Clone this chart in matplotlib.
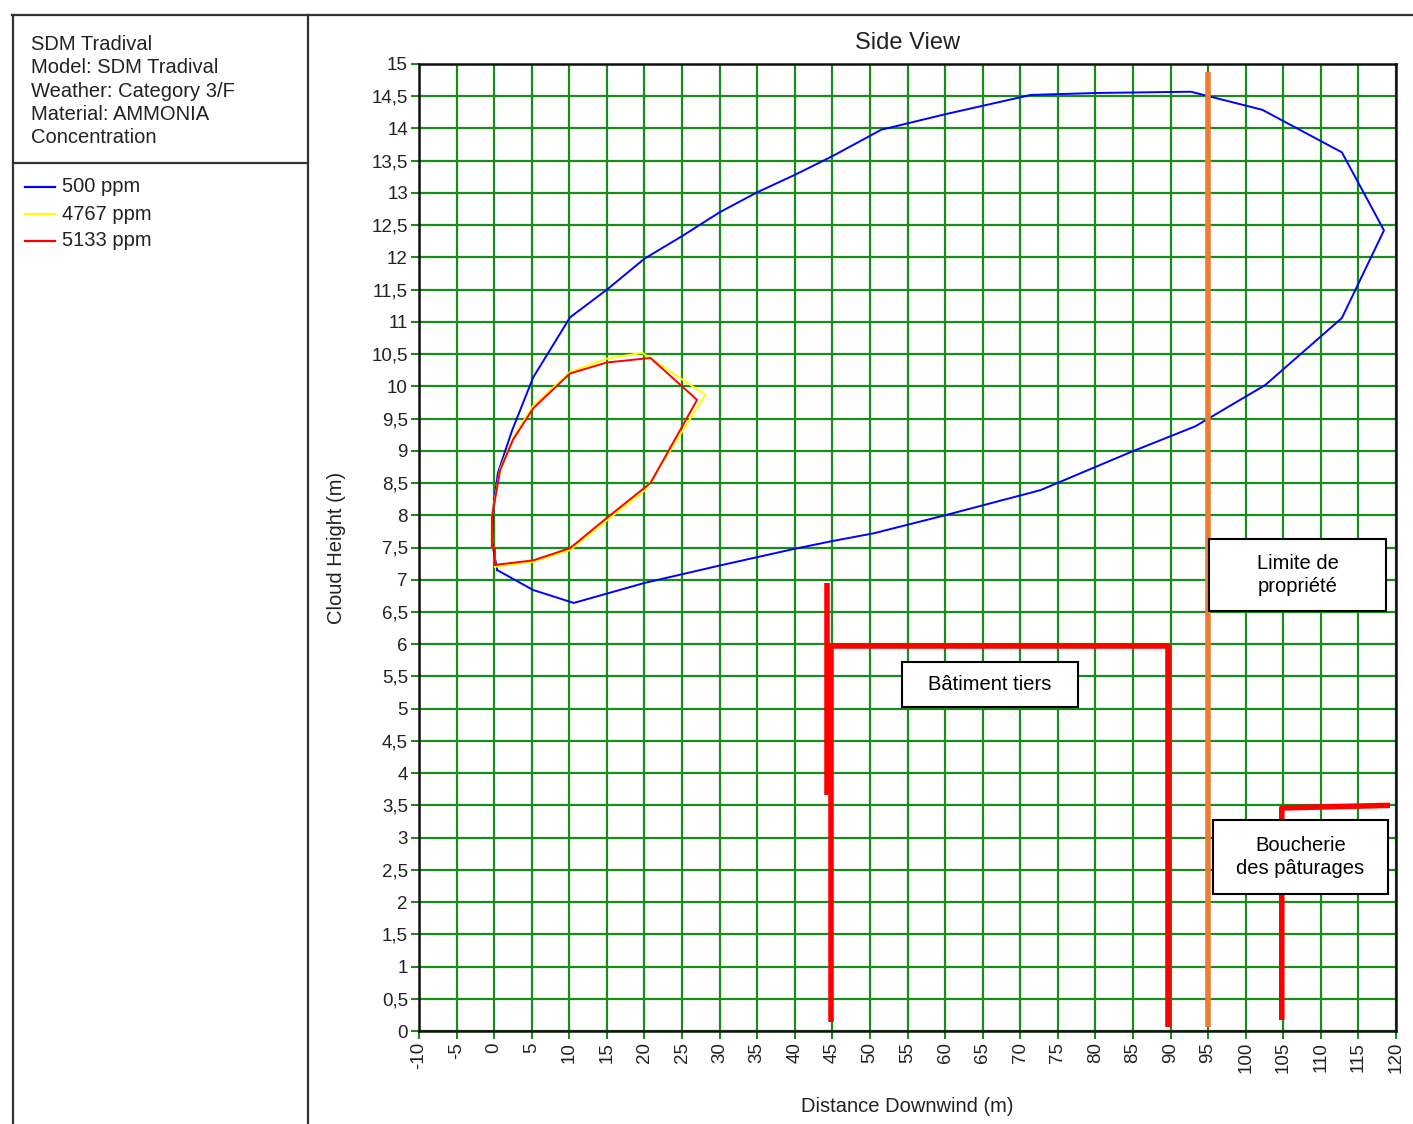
import matplotlib.pyplot as plt
import matplotlib.lines as mlines
import matplotlib.patches as mpatches
import numpy as np

plt.rcParams['font.family'] = ['Liberation Sans', 'DejaVu Sans']

W, H = 1413, 1124

# 500 ppm contour (blue)
x500 = [0.4, 5.2, 10.6, 20, 30, 40, 45, 50.5, 60, 72.7, 84.7, 93.3, 102.6, 112.8, 118.4,
        112.8, 102.2, 92.7, 80, 71.4, 60, 51.5, 45, 40, 35, 30, 25, 20, 15, 10.1, 5.2,
        2.4, 0.5, -0.1, -0.3, 0.4]
y500 = [7.15, 6.84, 6.64, 6.95, 7.22, 7.48, 7.6, 7.72, 8.0, 8.39, 8.98, 9.38, 10.02, 11.06, 12.42,
        13.63, 14.29, 14.57, 14.55, 14.52, 14.22, 13.98, 13.57, 13.28, 13.01, 12.70, 12.33, 11.98, 11.5, 11.07, 10.14,
        9.32, 8.66, 8.13, 7.6, 7.15]

# 4767 ppm contour (yellow)
x4767 = [0.1, 5.2, 10.1, 15, 20.1, 28.1, 19.7, 15, 10.1, 5.2, 2.5, 0.8, -0.3, -0.3, 0.1, 0.1]
y4767 = [7.2, 7.28, 7.46, 7.92, 8.39, 9.87, 10.52, 10.43, 10.22, 9.7, 9.2, 8.72, 7.98, 7.5, 7.5, 7.2]

# 5133 ppm contour (red)
x5133 = [0.1, 5.2, 10.1, 15, 20.8, 27.0, 20.8, 15, 10.1, 5.2, 2.5, 0.8, -0.3, -0.3, 0.1, 0.1]
y5133 = [7.23, 7.3, 7.49, 7.96, 8.5, 9.79, 10.44, 10.37, 10.2, 9.66, 9.17, 8.7, 7.97, 7.5, 7.5, 7.23]

series_labels = ['500 ppm', '4767 ppm', '5133 ppm']
series_colors = ['#0000ff', '#ffff00', '#ff0000']

# overlays: property limit and neighbouring buildings (data coords)
limit_x = [95, 95]
limit_y = [0.06, 14.87]
building_x = [[44.3, 44.3], [44.8, 44.8, 89.6, 89.6]]
building_y = [[3.66, 6.95], [0.14, 5.97, 5.97, 0.06]]
butcher_x = [104.8, 104.8, 119.2]
butcher_y = [0.17, 3.46, 3.5]

# annotation boxes: text, center x, center y, width, height (data units)
boxes = [
    ('Limite de\npropriété', 106.9, 7.07, 23.6, 1.12),
    ('Bâtiment tiers', 66.0, 5.38, 23.4, 0.70),
    ('Boucherie\ndes pâturages', 107.3, 2.70, 23.4, 1.15),
]

xticks = np.arange(-10, 121, 5)
yticks = np.arange(0, 15.01, 0.5)
ylabels = [('%g' % v).replace('.', ',') for v in yticks]

header = ['SDM Tradival', 'Model: SDM Tradival', 'Weather: Category 3/F',
          'Material: AMMONIA', 'Concentration']


def fx(px):
    return px / W


def fy(py):
    return 1 - py / H


def main():
    fig = plt.figure(figsize=(W / 100, H / 100), dpi=100)
    ax = fig.add_axes([fx(419), fy(1031), (1396 - 419) / W, (1031 - 64) / H])
    ax.set_xlim(-10, 120)
    ax.set_ylim(0, 15)

    ax.set_xticks(xticks)
    ax.set_xticklabels([str(v) for v in xticks], rotation=90)
    ax.set_yticks(yticks)
    ax.set_yticklabels(ylabels)
    ax.grid(True, color='#1a8c1a', lw=1.6, zorder=0)
    ax.set_axisbelow(True)
    ax.tick_params(direction='out', length=6, width=1.5, color='#1a8c1a',
                   labelsize=13.5, labelcolor='#222222', pad=2)
    for s in ax.spines.values():
        s.set_linewidth(1.8)
        s.set_color('#111111')

    for xs, ys, c in zip([x500, x4767, x5133], [y500, y4767, y5133], series_colors):
        ax.plot(xs, ys, color=c, lw=1.4, zorder=3)

    ax.plot(limit_x, limit_y, color='#ed7d31', lw=4, zorder=4, solid_capstyle='butt')
    for bx, by in zip(building_x, building_y):
        ax.plot(bx, by, color='#ff0000', lw=4, zorder=4, solid_capstyle='butt')
    ax.plot(butcher_x, butcher_y, color='#ff0000', lw=4, zorder=4, solid_capstyle='butt')

    for txt, cx, cy, bw, bh in boxes:
        ax.add_patch(mpatches.Rectangle((cx - bw / 2, cy - bh / 2), bw, bh,
                                        facecolor='white', edgecolor='black', lw=1.5, zorder=5))
        ax.text(cx, cy, txt, ha='center', va='center', fontsize=14.5,
                linespacing=1.25, zorder=6)

    ax.set_title('Side View', fontsize=17, pad=11, color='#222222')
    ax.set_xlabel('Distance Downwind (m)', fontsize=14.5, labelpad=17, color='#222222')
    ax.set_ylabel('Cloud Height (m)', fontsize=14.5, labelpad=18, color='#222222')

    # left info panel frame
    frame = dict(color='#333333', lw=1.6, transform=fig.transFigure)
    fig.add_artist(mlines.Line2D([fx(12), 1], [fy(15), fy(15)], **frame))
    fig.add_artist(mlines.Line2D([fx(13), fx(13)], [fy(15), 0], **frame))
    fig.add_artist(mlines.Line2D([fx(308), fx(308)], [fy(15), 0], **frame))
    fig.add_artist(mlines.Line2D([fx(13), fx(308)], [fy(163), fy(163)], **frame))

    for i, line in enumerate(header):
        fig.text(fx(31), fy(44.5 + i * 23.3), line, fontsize=14.5, va='center', color='#222222')

    for i, (lab, c) in enumerate(zip(series_labels, series_colors)):
        yy = fy(187 + i * 27)
        fig.add_artist(mlines.Line2D([fx(25), fx(55)], [yy, yy], color=c, lw=1.6,
                                     transform=fig.transFigure))
        fig.text(fx(62), yy, lab, fontsize=14.5, va='center', color='#222222')

    fig.savefig('out.png', dpi=100)
    plt.close(fig)


if __name__ == '__main__':
    main()
